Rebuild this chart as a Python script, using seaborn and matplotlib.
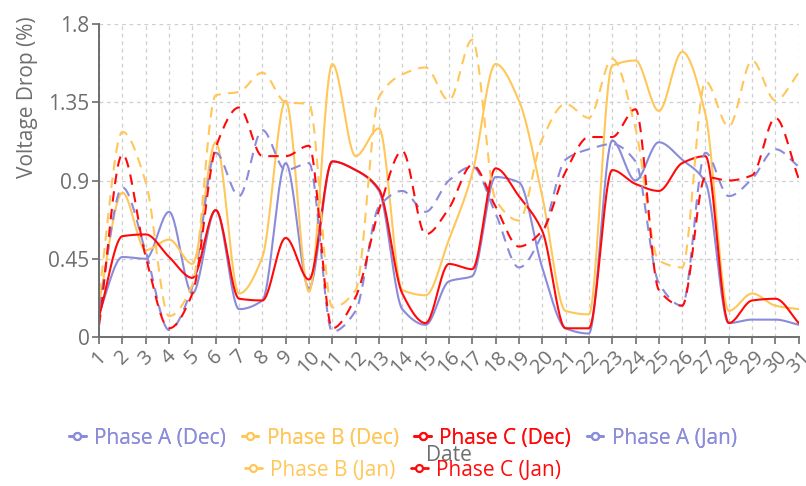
import numpy as np
import pandas as pd
import matplotlib
matplotlib.use("Agg")
import matplotlib.pyplot as plt
from matplotlib.lines import Line2D
import seaborn as sns

# days of the month on the x axis
days = list(range(1, 32))

# voltage drop (%) per phase
phase_a_dec = [0.14, 0.46, 0.45, 0.72, 0.25, 0.73, 0.16, 0.21, 1.00, 0.28,
               1.01, 0.96, 0.84, 0.16, 0.07, 0.32, 0.35, 0.92, 0.89, 0.40,
               0.05, 0.02, 1.13, 0.90, 1.12, 1.02, 0.89, 0.08, 0.10, 0.10, 0.07]
phase_b_dec = [0.20, 0.83, 0.50, 0.56, 0.42, 1.12, 0.25, 0.46, 1.36, 0.26,
               1.57, 1.04, 1.20, 0.27, 0.24, 0.56, 0.94, 1.57, 1.36, 0.81,
               0.15, 0.13, 1.56, 1.59, 1.30, 1.64, 1.28, 0.15, 0.25, 0.18, 0.16]
phase_c_dec = [0.12, 0.58, 0.59, 0.46, 0.34, 0.73, 0.22, 0.21, 0.57, 0.33,
               1.01, 0.96, 0.85, 0.25, 0.08, 0.42, 0.39, 0.97, 0.81, 0.61,
               0.05, 0.05, 0.96, 0.88, 0.84, 1.00, 1.04, 0.08, 0.21, 0.22, 0.08]
phase_a_jan = [0.17, 0.86, 0.49, 0.04, 0.29, 1.06, 0.81, 1.19, 0.96, 1.00,
               0.03, 0.15, 0.75, 0.84, 0.72, 0.90, 0.98, 0.71, 0.40, 0.59,
               1.02, 1.08, 1.11, 1.01, 0.31, 0.18, 1.06, 0.81, 0.91, 1.08, 0.98]
phase_b_jan = [0.25, 1.18, 0.89, 0.12, 0.30, 1.39, 1.41, 1.52, 1.35, 1.34,
               0.17, 0.27, 1.38, 1.51, 1.55, 1.36, 1.71, 0.79, 0.67, 1.14,
               1.34, 1.26, 1.60, 1.20, 0.44, 0.40, 1.47, 1.21, 1.59, 1.36, 1.52]
phase_c_jan = [0.07, 1.05, 0.46, 0.05, 0.25, 1.09, 1.32, 1.04, 1.04, 1.10,
               0.05, 0.23, 0.73, 1.07, 0.59, 0.74, 0.99, 0.75, 0.52, 0.61,
               0.95, 1.15, 1.15, 1.31, 0.27, 0.18, 0.92, 0.90, 0.93, 1.26, 0.91]

series_names = ["Phase A (Dec)", "Phase B (Dec)", "Phase C (Dec)",
                "Phase A (Jan)", "Phase B (Jan)", "Phase C (Jan)"]
series_values = [phase_a_dec, phase_b_dec, phase_c_dec,
                 phase_a_jan, phase_b_jan, phase_c_jan]

y_ticks = [0, 0.45, 0.9, 1.35, 1.8]
y_tick_labels = ["0", "0.45", "0.9", "1.35", "1.8"]

PURPLE = "#8b8bdc"
ORANGE = "#ffc75a"
RED = "#ff0a0a"
GREY = "#6e6e6e"
colors = [PURPLE, ORANGE, RED, PURPLE, ORANGE, RED]
dashed = [False, False, False, True, True, True]


def monotone_curve(x, y, per_seg=24):
    # smooth line through the points without overshoot (Fritsch-Carlson)
    x = np.asarray(x, float)
    y = np.asarray(y, float)
    h = np.diff(x)
    d = np.diff(y) / h
    m = np.zeros_like(y)
    m[0], m[-1] = d[0], d[-1]
    for i in range(1, len(y) - 1):
        if d[i - 1] * d[i] > 0:
            w1 = 2 * h[i] + h[i - 1]
            w2 = h[i] + 2 * h[i - 1]
            m[i] = (w1 + w2) / (w1 / d[i - 1] + w2 / d[i])
    xs, ys = [], []
    for i in range(len(x) - 1):
        t = np.linspace(0, 1, per_seg, endpoint=False)
        h00 = 2 * t**3 - 3 * t**2 + 1
        h10 = t**3 - 2 * t**2 + t
        h01 = -2 * t**3 + 3 * t**2
        h11 = t**3 - t**2
        xs.append(x[i] + t * h[i])
        ys.append(h00 * y[i] + h10 * h[i] * m[i] + h01 * y[i + 1] + h11 * h[i] * m[i + 1])
    xs.append([x[-1]])
    ys.append([y[-1]])
    return np.concatenate(xs), np.concatenate(ys)


sns.set_theme(style="white")
plt.rcParams["font.family"] = ["Open Sans", "DejaVu Sans"]

fig = plt.figure(figsize=(8.06, 4.86), dpi=100)
ax = fig.add_axes([0.123, 0.3066, 0.868, 0.644])

for name, vals, col, dash in zip(series_names, series_values, colors, dashed):
    xs, ys = monotone_curve(days, vals)
    df = pd.DataFrame({"day": xs, "drop": ys})
    sns.lineplot(data=df, x="day", y="drop", ax=ax, color=col,
                 linewidth=1.5, sort=False, estimator=None)
    if dash:
        ax.lines[-1].set_dashes((5, 3.5))

ax.set_xlim(1, 31)
ax.set_ylim(0, 1.8)
ax.set_xticks(days)
ax.set_xticklabels([str(d) for d in days], rotation=45, ha="center",
                   fontsize=14.5, color=GREY)
ax.set_yticks(y_ticks)
ax.set_yticklabels(y_tick_labels, fontsize=15, color=GREY)
ax.set_xlabel("")
ax.set_ylabel("Voltage Drop (%)", fontsize=15, color=GREY)
ax.yaxis.set_label_coords(-0.088, 0.767)

ax.grid(True, color="#cfcfcf", linestyle=(0, (3, 3)), linewidth=0.9)
for side in ["top", "right"]:
    ax.spines[side].set_visible(False)
for side in ["left", "bottom"]:
    ax.spines[side].set_color(GREY)
    ax.spines[side].set_linewidth(1.4)
ax.tick_params(axis="both", which="both", length=5, width=1.2, color=GREY,
               direction="out", pad=2, left=True, bottom=True)

fig.text(449 / 806, 1 - 455 / 486, "Date", ha="center", va="center",
         fontsize=15, color=GREY)


def handle(col):
    return Line2D([0], [0], color=col, linewidth=2, marker="o", markersize=5,
                  markerfacecolor="white", markeredgewidth=1.6)


def add_legend(idx, y):
    hs = [handle(colors[i]) for i in idx]
    leg = fig.legend(hs, [series_names[i] for i in idx], loc="center",
                     bbox_to_anchor=(0.5, y), ncol=len(idx), frameon=False,
                     fontsize=15, handlelength=0.8, handletextpad=0.4,
                     columnspacing=0.75, borderpad=0, borderaxespad=0)
    for txt, i in zip(leg.get_texts(), idx):
        txt.set_color(colors[i])
    return leg


leg1 = add_legend([0, 1, 2, 3], 1 - 438 / 486)
fig.add_artist(leg1)
add_legend([4, 5], 1 - 470 / 486)

fig.savefig("out.png", dpi=100)
